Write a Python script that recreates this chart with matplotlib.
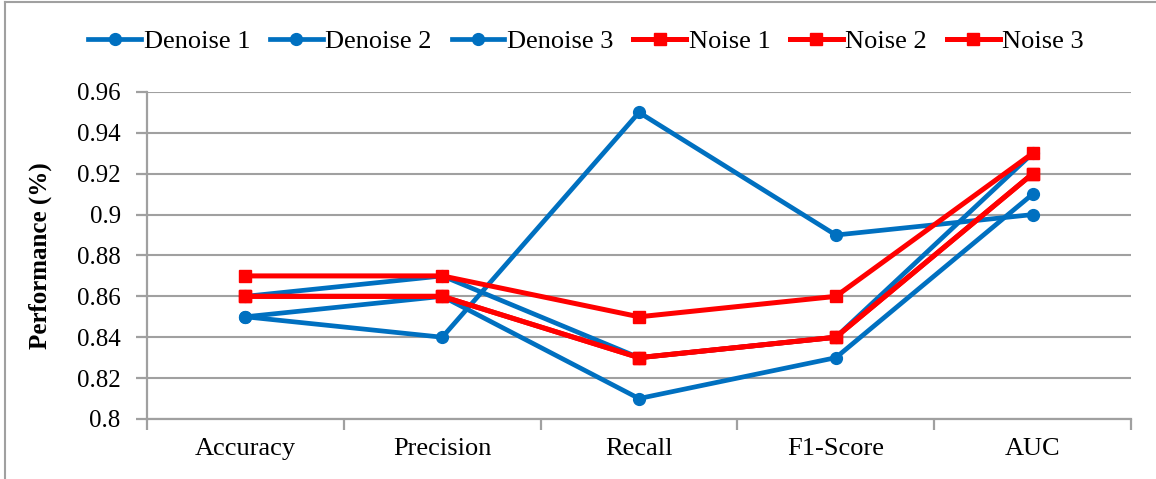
import matplotlib.pyplot as plt
from matplotlib.lines import Line2D

# metric categories on the x axis
metrics = ['Accuracy', 'Precision', 'Recall', 'F1-Score', 'AUC']

# denoised series
denoise_1 = [0.85, 0.84, 0.95, 0.89, 0.90]
denoise_2 = [0.86, 0.87, 0.83, 0.84, 0.93]
denoise_3 = [0.85, 0.86, 0.81, 0.83, 0.91]

# noisy series
noise_1 = [0.87, 0.87, 0.85, 0.86, 0.93]
noise_2 = [0.86, 0.86, 0.83, 0.84, 0.92]
noise_3 = [0.86, 0.86, 0.83, 0.84, 0.92]

y_ticks = [0.8, 0.82, 0.84, 0.86, 0.88, 0.9, 0.92, 0.94, 0.96]
y_labels = ['0.8', '0.82', '0.84', '0.86', '0.88', '0.9', '0.92', '0.94', '0.96']

plt.rcParams['font.family'] = ['Liberation Serif', 'DejaVu Serif']

blue = '#0070C0'
red = '#FF0000'
grey = '#A0A0A0'

fig = plt.figure(figsize=(11.56, 4.79), dpi=100)
ax = fig.add_axes([0.1272, 0.1253, 0.8512, 0.6827])

x = list(range(len(metrics)))

# blue ones first so the red ones sit on top
for vals, name in [(denoise_1, 'Denoise 1'), (denoise_2, 'Denoise 2'), (denoise_3, 'Denoise 3')]:
    ax.plot(x, vals, color=blue, lw=3.4, marker='o', ms=8.5, label=name, zorder=3)
for vals, name in [(noise_1, 'Noise 1'), (noise_2, 'Noise 2'), (noise_3, 'Noise 3')]:
    ax.plot(x, vals, color=red, lw=3.6, marker='s', ms=8.5, label=name, zorder=4)

ax.set_xlim(-0.5, len(metrics) - 0.5)
ax.set_ylim(0.8, 0.96)
ax.set_yticks(y_ticks)
ax.set_yticklabels(y_labels)
ax.set_xticks(x)
ax.set_xticklabels(metrics)

# category boundary ticks on the x axis
ax.set_xticks([i - 0.5 for i in range(len(metrics) + 1)], minor=True)
ax.tick_params(axis='x', which='major', length=0, pad=14, labelsize=19)
ax.tick_params(axis='x', which='minor', length=8, width=1.6, color=grey, direction='out')
ax.tick_params(axis='y', length=8, width=1.6, color=grey, labelsize=18, pad=11)

ax.grid(axis='y', color=grey, lw=1.5, zorder=0)
ax.set_axisbelow(True)
for s in ['top', 'right']:
    ax.spines[s].set_visible(False)
for s in ['left', 'bottom']:
    ax.spines[s].set_color(grey)
    ax.spines[s].set_linewidth(1.6)

ax.set_ylabel('Performance (%)', fontsize=18, fontweight='bold', labelpad=18)

# legend handles: line with marker centred
handles, labels = ax.get_legend_handles_labels()
fig.legend(handles, labels, loc='center', bbox_to_anchor=(0.507, 0.914), ncol=6,
           frameon=False, fontsize=19, handlelength=2.0, handletextpad=0.1,
           columnspacing=0.75)

# frame lines of the original (left and top edges only)
fig.add_artist(Line2D([0.004, 0.004], [0, 0.996], transform=fig.transFigure, color=grey, lw=1.5))
fig.add_artist(Line2D([0.004, 1], [0.996, 0.996], transform=fig.transFigure, color=grey, lw=1.5))

fig.savefig('out.png', dpi=100)
